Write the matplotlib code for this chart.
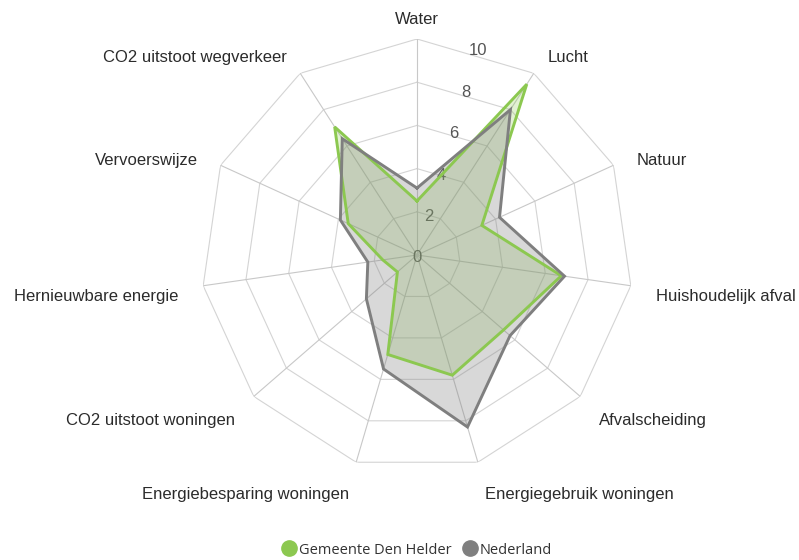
import numpy as np
import matplotlib
matplotlib.use('Agg')
import matplotlib.pyplot as plt
from matplotlib.lines import Line2D

# categorieen en scores (0-10)
categories = ['Water', 'Lucht', 'Natuur', 'Huishoudelijk afval', 'Afvalscheiding',
              'Energiegebruik woningen', 'Energiebesparing woningen', 'CO2 uitstoot woningen',
              'Hernieuwbare energie', 'Vervoerswijze', 'CO2 uitstoot wegverkeer']
den_helder = [2.5, 9.4, 3.3, 6.75, 5.3, 5.8, 4.8, 1.2, 1.6, 3.5, 7.05]
nederland = [3.1, 8.0, 4.2, 6.9, 5.7, 8.3, 5.5, 3.1, 2.3, 3.9, 6.4]
ring_values = [2, 4, 6, 8, 10]
tick_values = [0, 2, 4, 6, 8, 10]
series_names = ['Gemeente Den Helder', 'Nederland']

green = '#8cc850'
grey = '#7f7f7f'

n = len(categories)
angles = np.linspace(0, 2 * np.pi, n, endpoint=False)
closed = np.append(angles, angles[0])

W, H = 799, 560
fig = plt.figure(figsize=(W / 100, H / 100), dpi=100)
cx, cy, R = 417, 255, 216
ax = fig.add_axes([(cx - R) / W, (H - cy - R) / H, 2 * R / W, 2 * R / H], projection='polar')
ax.set_theta_zero_location('N')
ax.set_theta_direction(-1)
ax.set_ylim(0, 10)
ax.grid(False)
ax.spines['polar'].set_visible(False)
ax.set_xticks([])
ax.set_yticks([])
ax.patch.set_alpha(0)

# polygoon raster
for rv in ring_values:
    ax.plot(closed, [rv] * len(closed), color='#d4d4d4', lw=0.8, zorder=1)
for a in angles:
    ax.plot([a, a], [0, 10], color='#c8c8c8', lw=0.8, zorder=1)

# y-as labels
half = np.pi / n
for tv in tick_values:
    ax.annotate(str(tv), xy=(half, tv), xytext=(0, -3), textcoords='offset pixels',
                ha='center', va='center', fontsize=12, color='#555555',
                family='Liberation Sans', zorder=2)

# series
for vals, col, alpha in [(den_helder, green, 0.25), (nederland, grey, 0.3)]:
    v = np.append(vals, vals[0])
    ax.fill(closed, v, color=col, alpha=alpha, lw=0, zorder=3)
    ax.plot(closed, v, color=col, lw=2.1, zorder=4, solid_joinstyle='miter')

# categorie labels
for a, lab in zip(angles, categories):
    s, c = np.sin(a), np.cos(a)
    if s > 0.05:
        ha = 'left'
    elif s < -0.05:
        ha = 'right'
    else:
        ha = 'center'
    ax.annotate(lab, xy=(a, 10), xytext=(25 * s, 20 * c - 6.5 * (1 - c)),
                textcoords='offset pixels', ha=ha, va='center', fontsize=12,
                color='#2b2b2b', family='Liberation Sans', annotation_clip=False)

handles = [Line2D([], [], marker='o', linestyle='', markersize=11, color=green),
           Line2D([], [], marker='o', linestyle='', markersize=11, color=grey)]
fig.legend(handles, series_names, loc='center', bbox_to_anchor=(417 / W, 1 - 550 / H),
           ncol=2, frameon=False, handlelength=0.9, handletextpad=0.25,
           columnspacing=0.8, prop={'family': 'Open Sans', 'size': 10.5},
           labelcolor='#333333')

fig.savefig('out.png', dpi=100)
